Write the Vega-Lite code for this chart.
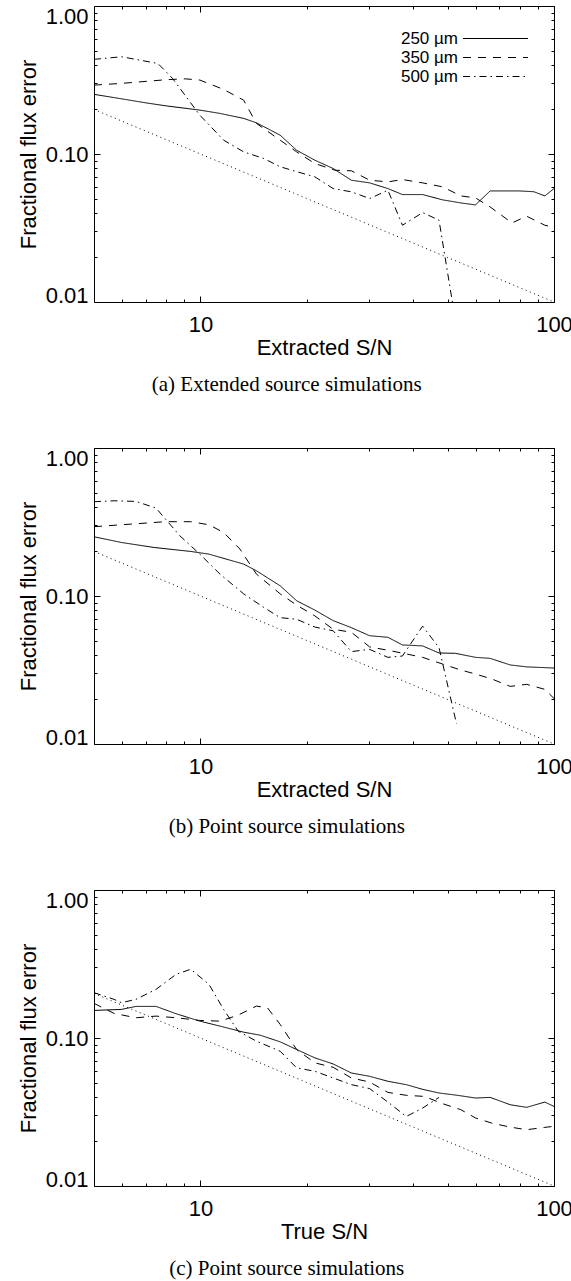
{
  "$schema": "https://vega.github.io/schema/vega-lite/v6.json",
  "background": "white",
  "padding": {"top": 4, "left": 16, "right": 2, "bottom": 2},
  "spacing": 50,
  "config": {
    "font": "Liberation Sans",
    "view": {"stroke": "black", "strokeWidth": 1},
    "axis": {
      "domain": false,
      "grid": false,
      "tickColor": "black",
      "tickWidth": 1,
      "labelFont": "Liberation Sans",
      "labelFontSize": 22,
      "labelColor": "black",
      "labelOverlap": false,
      "labelBound": false,
      "labelFlush": false,
      "titleFont": "Liberation Sans",
      "titleFontSize": 22,
      "titleFontWeight": "normal",
      "titleColor": "black"
    }
  },
  "datasets": {
    "ref": [{"sn": 5, "err": 0.2}, {"sn": 100, "err": 0.01}],
    "a": [
      {"sn": 5, "err": 0.253, "band": "250 µm"},
      {"sn": 5.98, "err": 0.236, "band": "250 µm"},
      {"sn": 7.06, "err": 0.221, "band": "250 µm"},
      {"sn": 8.05, "err": 0.211, "band": "250 µm"},
      {"sn": 9.96, "err": 0.198, "band": "250 µm"},
      {"sn": 11.36, "err": 0.188, "band": "250 µm"},
      {"sn": 13.25, "err": 0.174, "band": "250 µm"},
      {"sn": 14.4, "err": 0.1625, "band": "250 µm"},
      {"sn": 16.81, "err": 0.134, "band": "250 µm"},
      {"sn": 18.71, "err": 0.106, "band": "250 µm"},
      {"sn": 21.07, "err": 0.0908, "band": "250 µm"},
      {"sn": 23.73, "err": 0.0798, "band": "250 µm"},
      {"sn": 26.73, "err": 0.0665, "band": "250 µm"},
      {"sn": 30.1, "err": 0.0638, "band": "250 µm"},
      {"sn": 33.9, "err": 0.0584, "band": "250 µm"},
      {"sn": 37.27, "err": 0.0532, "band": "250 µm"},
      {"sn": 42.5, "err": 0.0532, "band": "250 µm"},
      {"sn": 48.4, "err": 0.049, "band": "250 µm"},
      {"sn": 54.53, "err": 0.0467, "band": "250 µm"},
      {"sn": 59.98, "err": 0.0453, "band": "250 µm"},
      {"sn": 65.96, "err": 0.0563, "band": "250 µm"},
      {"sn": 79.78, "err": 0.0563, "band": "250 µm"},
      {"sn": 87.7, "err": 0.0556, "band": "250 µm"},
      {"sn": 94.23, "err": 0.0521, "band": "250 µm"},
      {"sn": 100, "err": 0.0584, "band": "250 µm"},
      {"sn": 5, "err": 0.292, "band": "350 µm"},
      {"sn": 5.98, "err": 0.3, "band": "350 µm"},
      {"sn": 7.06, "err": 0.31, "band": "350 µm"},
      {"sn": 8.05, "err": 0.318, "band": "350 µm"},
      {"sn": 9.06, "err": 0.322, "band": "350 µm"},
      {"sn": 9.96, "err": 0.316, "band": "350 µm"},
      {"sn": 11.63, "err": 0.273, "band": "350 µm"},
      {"sn": 13.25, "err": 0.231, "band": "350 µm"},
      {"sn": 14.4, "err": 0.161, "band": "350 µm"},
      {"sn": 16.81, "err": 0.124, "band": "350 µm"},
      {"sn": 18.71, "err": 0.1034, "band": "350 µm"},
      {"sn": 21.07, "err": 0.0862, "band": "350 µm"},
      {"sn": 24.02, "err": 0.0777, "band": "350 µm"},
      {"sn": 26.73, "err": 0.077, "band": "350 µm"},
      {"sn": 30.1, "err": 0.0665, "band": "350 µm"},
      {"sn": 33.9, "err": 0.0648, "band": "350 µm"},
      {"sn": 37.27, "err": 0.0672, "band": "350 µm"},
      {"sn": 42.5, "err": 0.0638, "band": "350 µm"},
      {"sn": 48.4, "err": 0.06, "band": "350 µm"},
      {"sn": 54.53, "err": 0.0521, "band": "350 µm"},
      {"sn": 59.98, "err": 0.0505, "band": "350 µm"},
      {"sn": 65.96, "err": 0.0439, "band": "350 µm"},
      {"sn": 76.07, "err": 0.0342, "band": "350 µm"},
      {"sn": 83.66, "err": 0.038, "band": "350 µm"},
      {"sn": 94.23, "err": 0.033, "band": "350 µm"},
      {"sn": 100, "err": 0.032, "band": "350 µm"},
      {"sn": 5, "err": 0.436, "band": "500 µm"},
      {"sn": 5.98, "err": 0.454, "band": "500 µm"},
      {"sn": 7.58, "err": 0.409, "band": "500 µm"},
      {"sn": 8.34, "err": 0.324, "band": "500 µm"},
      {"sn": 9.96, "err": 0.183, "band": "500 µm"},
      {"sn": 11.63, "err": 0.124, "band": "500 µm"},
      {"sn": 13.25, "err": 0.1034, "band": "500 µm"},
      {"sn": 15.11, "err": 0.0932, "band": "500 µm"},
      {"sn": 16.81, "err": 0.082, "band": "500 µm"},
      {"sn": 18.71, "err": 0.076, "band": "500 µm"},
      {"sn": 21.07, "err": 0.0701, "band": "500 µm"},
      {"sn": 23.73, "err": 0.0584, "band": "500 µm"},
      {"sn": 26.73, "err": 0.0555, "band": "500 µm"},
      {"sn": 30.1, "err": 0.05, "band": "500 µm"},
      {"sn": 33.9, "err": 0.0569, "band": "500 µm"},
      {"sn": 37.27, "err": 0.033, "band": "500 µm"},
      {"sn": 42.5, "err": 0.0402, "band": "500 µm"},
      {"sn": 47.29, "err": 0.0357, "band": "500 µm"},
      {"sn": 54.5, "err": 0.0045, "band": "500 µm"}
    ],
    "b": [
      {"sn": 5, "err": 0.2513, "band": "250 µm"},
      {"sn": 5.98, "err": 0.2299, "band": "250 µm"},
      {"sn": 7.4, "err": 0.2127, "band": "250 µm"},
      {"sn": 9.39, "err": 0.2, "band": "250 µm"},
      {"sn": 10.57, "err": 0.1918, "band": "250 µm"},
      {"sn": 13.25, "err": 0.1643, "band": "250 µm"},
      {"sn": 14.4, "err": 0.148, "band": "250 µm"},
      {"sn": 16.81, "err": 0.1172, "band": "250 µm"},
      {"sn": 18.71, "err": 0.0929, "band": "250 µm"},
      {"sn": 21.07, "err": 0.0803, "band": "250 µm"},
      {"sn": 23.73, "err": 0.0682, "band": "250 µm"},
      {"sn": 26.73, "err": 0.0611, "band": "250 µm"},
      {"sn": 30.1, "err": 0.0539, "band": "250 µm"},
      {"sn": 33.9, "err": 0.0526, "band": "250 µm"},
      {"sn": 37.27, "err": 0.0467, "band": "250 µm"},
      {"sn": 42.5, "err": 0.046, "band": "250 µm"},
      {"sn": 47.3, "err": 0.0412, "band": "250 µm"},
      {"sn": 52.6, "err": 0.041, "band": "250 µm"},
      {"sn": 60, "err": 0.0385, "band": "250 µm"},
      {"sn": 66, "err": 0.0379, "band": "250 µm"},
      {"sn": 75.2, "err": 0.0342, "band": "250 µm"},
      {"sn": 83.7, "err": 0.0332, "band": "250 µm"},
      {"sn": 100, "err": 0.0326, "band": "250 µm"},
      {"sn": 5, "err": 0.2939, "band": "350 µm"},
      {"sn": 7.95, "err": 0.3177, "band": "350 µm"},
      {"sn": 9.39, "err": 0.3177, "band": "350 µm"},
      {"sn": 10.57, "err": 0.3029, "band": "350 µm"},
      {"sn": 11.63, "err": 0.2686, "band": "350 µm"},
      {"sn": 12.94, "err": 0.2073, "band": "350 µm"},
      {"sn": 14.4, "err": 0.1406, "band": "350 µm"},
      {"sn": 16.81, "err": 0.1034, "band": "350 µm"},
      {"sn": 18.71, "err": 0.0868, "band": "350 µm"},
      {"sn": 21.07, "err": 0.0734, "band": "350 µm"},
      {"sn": 23.73, "err": 0.0596, "band": "350 µm"},
      {"sn": 26.73, "err": 0.0569, "band": "350 µm"},
      {"sn": 30.1, "err": 0.0453, "band": "350 µm"},
      {"sn": 33.9, "err": 0.043, "band": "350 µm"},
      {"sn": 38.2, "err": 0.0406, "band": "350 µm"},
      {"sn": 42.5, "err": 0.0385, "band": "350 µm"},
      {"sn": 48.4, "err": 0.0347, "band": "350 µm"},
      {"sn": 54.5, "err": 0.0316, "band": "350 µm"},
      {"sn": 60, "err": 0.0297, "band": "350 µm"},
      {"sn": 66.7, "err": 0.0275, "band": "350 µm"},
      {"sn": 75.2, "err": 0.0245, "band": "350 µm"},
      {"sn": 83.7, "err": 0.0253, "band": "350 µm"},
      {"sn": 94.2, "err": 0.0234, "band": "350 µm"},
      {"sn": 100, "err": 0.0203, "band": "350 µm"},
      {"sn": 5, "err": 0.4336, "band": "500 µm"},
      {"sn": 5.7, "err": 0.44, "band": "500 µm"},
      {"sn": 6.57, "err": 0.4356, "band": "500 µm"},
      {"sn": 7.49, "err": 0.3926, "band": "500 µm"},
      {"sn": 8.74, "err": 0.2555, "band": "500 µm"},
      {"sn": 9.96, "err": 0.1918, "band": "500 µm"},
      {"sn": 11.36, "err": 0.1406, "band": "500 µm"},
      {"sn": 13.25, "err": 0.1034, "band": "500 µm"},
      {"sn": 15.11, "err": 0.0837, "band": "500 µm"},
      {"sn": 16.81, "err": 0.0714, "band": "500 µm"},
      {"sn": 18.71, "err": 0.0696, "band": "500 µm"},
      {"sn": 21.07, "err": 0.0617, "band": "500 µm"},
      {"sn": 23.73, "err": 0.0582, "band": "500 µm"},
      {"sn": 26.73, "err": 0.0421, "band": "500 µm"},
      {"sn": 30.1, "err": 0.0436, "band": "500 µm"},
      {"sn": 33.9, "err": 0.0385, "band": "500 µm"},
      {"sn": 37.27, "err": 0.0393, "band": "500 µm"},
      {"sn": 42.5, "err": 0.0626, "band": "500 µm"},
      {"sn": 47.3, "err": 0.0447, "band": "500 µm"},
      {"sn": 53, "err": 0.0137, "band": "500 µm"}
    ],
    "c": [
      {"sn": 5, "err": 0.1536, "band": "250 µm"},
      {"sn": 5.98, "err": 0.156, "band": "250 µm"},
      {"sn": 6.57, "err": 0.1635, "band": "250 µm"},
      {"sn": 7.49, "err": 0.1635, "band": "250 µm"},
      {"sn": 8.54, "err": 0.1458, "band": "250 µm"},
      {"sn": 9.96, "err": 0.13, "band": "250 µm"},
      {"sn": 11.36, "err": 0.1203, "band": "250 µm"},
      {"sn": 13.25, "err": 0.1095, "band": "250 µm"},
      {"sn": 14.75, "err": 0.1045, "band": "250 µm"},
      {"sn": 16.81, "err": 0.0942, "band": "250 µm"},
      {"sn": 18.71, "err": 0.0836, "band": "250 µm"},
      {"sn": 21.07, "err": 0.0734, "band": "250 µm"},
      {"sn": 23.73, "err": 0.0668, "band": "250 µm"},
      {"sn": 26.73, "err": 0.058, "band": "250 µm"},
      {"sn": 30.1, "err": 0.0551, "band": "250 µm"},
      {"sn": 33.9, "err": 0.051, "band": "250 µm"},
      {"sn": 38.2, "err": 0.0484, "band": "250 µm"},
      {"sn": 42.5, "err": 0.045, "band": "250 µm"},
      {"sn": 47.3, "err": 0.0425, "band": "250 µm"},
      {"sn": 53.3, "err": 0.041, "band": "250 µm"},
      {"sn": 60, "err": 0.0393, "band": "250 µm"},
      {"sn": 66, "err": 0.0397, "band": "250 µm"},
      {"sn": 75.2, "err": 0.0354, "band": "250 µm"},
      {"sn": 83.7, "err": 0.034, "band": "250 µm"},
      {"sn": 94.2, "err": 0.0369, "band": "250 µm"},
      {"sn": 100, "err": 0.0345, "band": "250 µm"},
      {"sn": 5, "err": 0.1714, "band": "350 µm"},
      {"sn": 5.7, "err": 0.1466, "band": "350 µm"},
      {"sn": 6.57, "err": 0.137, "band": "350 µm"},
      {"sn": 7.49, "err": 0.1406, "band": "350 µm"},
      {"sn": 8.54, "err": 0.137, "band": "350 µm"},
      {"sn": 9.96, "err": 0.1314, "band": "350 µm"},
      {"sn": 11.36, "err": 0.13, "band": "350 µm"},
      {"sn": 12.79, "err": 0.1428, "band": "350 µm"},
      {"sn": 14.4, "err": 0.1643, "band": "350 µm"},
      {"sn": 15.47, "err": 0.1601, "band": "350 µm"},
      {"sn": 16.81, "err": 0.1235, "band": "350 µm"},
      {"sn": 18.71, "err": 0.0836, "band": "350 µm"},
      {"sn": 21.07, "err": 0.0679, "band": "350 µm"},
      {"sn": 23.73, "err": 0.0634, "band": "350 µm"},
      {"sn": 26.73, "err": 0.0537, "band": "350 µm"},
      {"sn": 30.1, "err": 0.0504, "band": "350 µm"},
      {"sn": 33.9, "err": 0.0429, "band": "350 µm"},
      {"sn": 38.2, "err": 0.041, "band": "350 µm"},
      {"sn": 43, "err": 0.0403, "band": "350 µm"},
      {"sn": 48.4, "err": 0.036, "band": "350 µm"},
      {"sn": 54.5, "err": 0.0328, "band": "350 µm"},
      {"sn": 60, "err": 0.0288, "band": "350 µm"},
      {"sn": 66.7, "err": 0.0266, "band": "350 µm"},
      {"sn": 75.2, "err": 0.025, "band": "350 µm"},
      {"sn": 83.7, "err": 0.024, "band": "350 µm"},
      {"sn": 94.2, "err": 0.0249, "band": "350 µm"},
      {"sn": 100, "err": 0.0253, "band": "350 µm"},
      {"sn": 5, "err": 0.2024, "band": "500 µm"},
      {"sn": 5.7, "err": 0.1824, "band": "500 µm"},
      {"sn": 5.98, "err": 0.1732, "band": "500 µm"},
      {"sn": 6.57, "err": 0.1824, "band": "500 µm"},
      {"sn": 7.49, "err": 0.2132, "band": "500 µm"},
      {"sn": 8.54, "err": 0.2695, "band": "500 µm"},
      {"sn": 9.39, "err": 0.2913, "band": "500 µm"},
      {"sn": 10.57, "err": 0.2305, "band": "500 µm"},
      {"sn": 11.63, "err": 0.156, "band": "500 µm"},
      {"sn": 12.79, "err": 0.1112, "band": "500 µm"},
      {"sn": 14.4, "err": 0.0952, "band": "500 µm"},
      {"sn": 16.81, "err": 0.0814, "band": "500 µm"},
      {"sn": 18.71, "err": 0.0628, "band": "500 µm"},
      {"sn": 21.07, "err": 0.0596, "band": "500 µm"},
      {"sn": 23.73, "err": 0.0537, "band": "500 µm"},
      {"sn": 26.73, "err": 0.0484, "band": "500 µm"},
      {"sn": 30.1, "err": 0.0455, "band": "500 µm"},
      {"sn": 33.9, "err": 0.0369, "band": "500 µm"},
      {"sn": 38.2, "err": 0.0295, "band": "500 µm"},
      {"sn": 42.5, "err": 0.0336, "band": "500 µm"},
      {"sn": 47.3, "err": 0.0397, "band": "500 µm"}
    ]
  },
  "vconcat": [
    {
      "width": 460,
      "height": 296,
      "title": {"text": "(a) Extended source simulations", "orient": "bottom", "anchor": "middle", "frame": "bounds", "font": "Liberation Serif", "fontSize": 21, "fontWeight": "normal", "color": "black", "offset": 16, "dx": -8},
      "resolve": {"axis": {"x": "independent", "y": "independent"}},
      "layer": [
        {
          "data": {"name": "ref"},
          "mark": {"type": "line", "clip": true, "color": "black", "strokeWidth": 1, "strokeDash": [1, 3.5]},
          "encoding": {
            "x": {"field": "sn", "type": "quantitative", "scale": {"type": "log", "domain": [5, 100], "nice": false},
              "axis": {"orient": "top", "labels": false, "title": null, "values": [6, 7, 8, 9, 10, 20, 30, 40, 50, 60, 70, 80, 90, 100],
                "tickSize": {"condition": {"test": "datum.value == 10 || datum.value == 100", "value": -6}, "value": -3}}},
            "y": {"field": "err", "type": "quantitative", "scale": {"type": "log", "domain": [0.01, 1], "nice": false},
              "axis": {"orient": "right", "labels": false, "title": null, "values": [0.01, 0.02, 0.03, 0.04, 0.05, 0.06, 0.07, 0.08, 0.09, 0.1, 0.2, 0.3, 0.4, 0.5, 0.6, 0.7, 0.8, 0.9, 1],
                "tickSize": {"condition": {"test": "datum.value == 0.01 || datum.value == 0.1 || datum.value == 1", "value": -6}, "value": -3}}}
          }
        },
        {
          "data": {"name": "a"},
          "mark": {"type": "line", "clip": true, "color": "black", "strokeWidth": 1},
          "encoding": {
            "x": {"field": "sn", "type": "quantitative", "scale": {"type": "log", "domain": [5, 100], "nice": false},
              "axis": {"orient": "bottom", "title": "Extracted S/N", "titlePadding": 2, "labelPadding": 18, "values": [6, 7, 8, 9, 10, 20, 30, 40, 50, 60, 70, 80, 90, 100],
                "labelExpr": "datum.value == 10 || datum.value == 100 ? format(datum.value, 'd') : ''",
                "labelFontSize": {"condition": {"test": "datum.value == 10 || datum.value == 100", "value": 22}, "value": 0},
                "tickSize": {"condition": {"test": "datum.value == 10 || datum.value == 100", "value": -6}, "value": -3}}},
            "y": {"field": "err", "type": "quantitative", "scale": {"type": "log", "domain": [0.01, 1], "nice": false},
              "axis": {"orient": "left", "title": "Fractional flux error", "titlePadding": 5, "labelPadding": 12, "values": [0.01, 0.02, 0.03, 0.04, 0.05, 0.06, 0.07, 0.08, 0.09, 0.1, 0.2, 0.3, 0.4, 0.5, 0.6, 0.7, 0.8, 0.9, 1],
                "labelExpr": "datum.value == 0.01 || datum.value == 0.1 || datum.value == 1 ? format(datum.value, '.2f') : ''",
                "labelFontSize": {"condition": {"test": "datum.value == 0.01 || datum.value == 0.1 || datum.value == 1", "value": 22}, "value": 0},
                "labelBaseline": {"condition": [{"test": "datum.value == 0.01", "value": "alphabetic"}, {"test": "datum.value == 1", "value": "top"}], "value": "middle"},
                "tickSize": {"condition": {"test": "datum.value == 0.01 || datum.value == 0.1 || datum.value == 1", "value": -6}, "value": -3}}},
            "strokeDash": {"field": "band", "type": "nominal",
              "scale": {"domain": ["250 µm", "350 µm", "500 µm"], "range": [[1, 0], [8, 7], [7, 4, 1.5, 4]]},
              "legend": {"orient": "top-right", "offset": 24, "title": null, "padding": 0, "symbolType": "M-5,0H5", "symbolSize": 169, "symbolStrokeWidth": 1, "symbolStrokeColor": "black", "symbolFillColor": "transparent", "labelFont": "Liberation Sans", "labelFontSize": 17, "labelColor": "black", "labelAlign": "right", "labelOffset": -46, "rowPadding": 1}}
          }
        }
      ]
    },
    {
      "width": 460,
      "height": 296,
      "title": {"text": "(b) Point source simulations", "orient": "bottom", "anchor": "middle", "frame": "bounds", "font": "Liberation Serif", "fontSize": 21, "fontWeight": "normal", "color": "black", "offset": 16, "dx": -8},
      "resolve": {"axis": {"x": "independent", "y": "independent"}},
      "layer": [
        {
          "data": {"name": "ref"},
          "mark": {"type": "line", "clip": true, "color": "black", "strokeWidth": 1, "strokeDash": [1, 3.5]},
          "encoding": {
            "x": {"field": "sn", "type": "quantitative", "scale": {"type": "log", "domain": [5, 100], "nice": false},
              "axis": {"orient": "top", "labels": false, "title": null, "values": [6, 7, 8, 9, 10, 20, 30, 40, 50, 60, 70, 80, 90, 100],
                "tickSize": {"condition": {"test": "datum.value == 10 || datum.value == 100", "value": -6}, "value": -3}}},
            "y": {"field": "err", "type": "quantitative", "scale": {"type": "log", "domain": [0.01, 1], "nice": false},
              "axis": {"orient": "right", "labels": false, "title": null, "values": [0.01, 0.02, 0.03, 0.04, 0.05, 0.06, 0.07, 0.08, 0.09, 0.1, 0.2, 0.3, 0.4, 0.5, 0.6, 0.7, 0.8, 0.9, 1],
                "tickSize": {"condition": {"test": "datum.value == 0.01 || datum.value == 0.1 || datum.value == 1", "value": -6}, "value": -3}}}
          }
        },
        {
          "data": {"name": "b"},
          "mark": {"type": "line", "clip": true, "color": "black", "strokeWidth": 1},
          "encoding": {
            "x": {"field": "sn", "type": "quantitative", "scale": {"type": "log", "domain": [5, 100], "nice": false},
              "axis": {"orient": "bottom", "title": "Extracted S/N", "titlePadding": 2, "labelPadding": 18, "values": [6, 7, 8, 9, 10, 20, 30, 40, 50, 60, 70, 80, 90, 100],
                "labelExpr": "datum.value == 10 || datum.value == 100 ? format(datum.value, 'd') : ''",
                "labelFontSize": {"condition": {"test": "datum.value == 10 || datum.value == 100", "value": 22}, "value": 0},
                "tickSize": {"condition": {"test": "datum.value == 10 || datum.value == 100", "value": -6}, "value": -3}}},
            "y": {"field": "err", "type": "quantitative", "scale": {"type": "log", "domain": [0.01, 1], "nice": false},
              "axis": {"orient": "left", "title": "Fractional flux error", "titlePadding": 5, "labelPadding": 12, "values": [0.01, 0.02, 0.03, 0.04, 0.05, 0.06, 0.07, 0.08, 0.09, 0.1, 0.2, 0.3, 0.4, 0.5, 0.6, 0.7, 0.8, 0.9, 1],
                "labelExpr": "datum.value == 0.01 || datum.value == 0.1 || datum.value == 1 ? format(datum.value, '.2f') : ''",
                "labelFontSize": {"condition": {"test": "datum.value == 0.01 || datum.value == 0.1 || datum.value == 1", "value": 22}, "value": 0},
                "labelBaseline": {"condition": [{"test": "datum.value == 0.01", "value": "alphabetic"}, {"test": "datum.value == 1", "value": "top"}], "value": "middle"},
                "tickSize": {"condition": {"test": "datum.value == 0.01 || datum.value == 0.1 || datum.value == 1", "value": -6}, "value": -3}}},
            "strokeDash": {"field": "band", "type": "nominal",
              "scale": {"domain": ["250 µm", "350 µm", "500 µm"], "range": [[1, 0], [8, 7], [7, 4, 1.5, 4]]},
              "legend": {"orient": "top-right", "offset": 24, "title": null, "padding": 0, "symbolType": "M-5,0H5", "symbolSize": 169, "symbolStrokeWidth": 1, "symbolStrokeColor": "black", "symbolFillColor": "transparent", "labelFont": "Liberation Sans", "labelFontSize": 17, "labelColor": "black", "labelAlign": "right", "labelOffset": -46, "rowPadding": 1}}
          }
        }
      ]
    },
    {
      "width": 460,
      "height": 296,
      "title": {"text": "(c) Point source simulations", "orient": "bottom", "anchor": "middle", "frame": "bounds", "font": "Liberation Serif", "fontSize": 21, "fontWeight": "normal", "color": "black", "offset": 16, "dx": -8},
      "resolve": {"axis": {"x": "independent", "y": "independent"}},
      "layer": [
        {
          "data": {"name": "ref"},
          "mark": {"type": "line", "clip": true, "color": "black", "strokeWidth": 1, "strokeDash": [1, 3.5]},
          "encoding": {
            "x": {"field": "sn", "type": "quantitative", "scale": {"type": "log", "domain": [5, 100], "nice": false},
              "axis": {"orient": "top", "labels": false, "title": null, "values": [6, 7, 8, 9, 10, 20, 30, 40, 50, 60, 70, 80, 90, 100],
                "tickSize": {"condition": {"test": "datum.value == 10 || datum.value == 100", "value": -6}, "value": -3}}},
            "y": {"field": "err", "type": "quantitative", "scale": {"type": "log", "domain": [0.01, 1], "nice": false},
              "axis": {"orient": "right", "labels": false, "title": null, "values": [0.01, 0.02, 0.03, 0.04, 0.05, 0.06, 0.07, 0.08, 0.09, 0.1, 0.2, 0.3, 0.4, 0.5, 0.6, 0.7, 0.8, 0.9, 1],
                "tickSize": {"condition": {"test": "datum.value == 0.01 || datum.value == 0.1 || datum.value == 1", "value": -6}, "value": -3}}}
          }
        },
        {
          "data": {"name": "c"},
          "mark": {"type": "line", "clip": true, "color": "black", "strokeWidth": 1},
          "encoding": {
            "x": {"field": "sn", "type": "quantitative", "scale": {"type": "log", "domain": [5, 100], "nice": false},
              "axis": {"orient": "bottom", "title": "True S/N", "titlePadding": 2, "labelPadding": 18, "values": [6, 7, 8, 9, 10, 20, 30, 40, 50, 60, 70, 80, 90, 100],
                "labelExpr": "datum.value == 10 || datum.value == 100 ? format(datum.value, 'd') : ''",
                "labelFontSize": {"condition": {"test": "datum.value == 10 || datum.value == 100", "value": 22}, "value": 0},
                "tickSize": {"condition": {"test": "datum.value == 10 || datum.value == 100", "value": -6}, "value": -3}}},
            "y": {"field": "err", "type": "quantitative", "scale": {"type": "log", "domain": [0.01, 1], "nice": false},
              "axis": {"orient": "left", "title": "Fractional flux error", "titlePadding": 5, "labelPadding": 12, "values": [0.01, 0.02, 0.03, 0.04, 0.05, 0.06, 0.07, 0.08, 0.09, 0.1, 0.2, 0.3, 0.4, 0.5, 0.6, 0.7, 0.8, 0.9, 1],
                "labelExpr": "datum.value == 0.01 || datum.value == 0.1 || datum.value == 1 ? format(datum.value, '.2f') : ''",
                "labelFontSize": {"condition": {"test": "datum.value == 0.01 || datum.value == 0.1 || datum.value == 1", "value": 22}, "value": 0},
                "labelBaseline": {"condition": [{"test": "datum.value == 0.01", "value": "alphabetic"}, {"test": "datum.value == 1", "value": "top"}], "value": "middle"},
                "tickSize": {"condition": {"test": "datum.value == 0.01 || datum.value == 0.1 || datum.value == 1", "value": -6}, "value": -3}}},
            "strokeDash": {"field": "band", "type": "nominal",
              "scale": {"domain": ["250 µm", "350 µm", "500 µm"], "range": [[1, 0], [8, 7], [7, 4, 1.5, 4]]},
              "legend": {"orient": "top-right", "offset": 24, "title": null, "padding": 0, "symbolType": "M-5,0H5", "symbolSize": 169, "symbolStrokeWidth": 1, "symbolStrokeColor": "black", "symbolFillColor": "transparent", "labelFont": "Liberation Sans", "labelFontSize": 17, "labelColor": "black", "labelAlign": "right", "labelOffset": -46, "rowPadding": 1}}
          }
        }
      ]
    }
  ]
}
